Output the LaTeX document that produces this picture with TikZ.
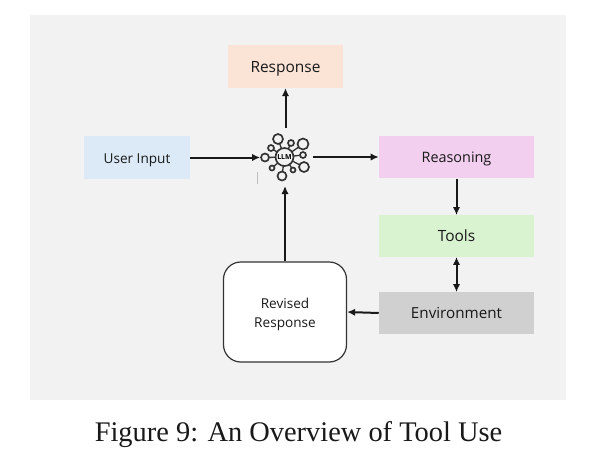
\documentclass[tikz,border=0pt]{standalone}
\usepackage{fontspec}
\setmainfont{Liberation Serif}
\newfontfamily\labelfont{Open Sans}
\usetikzlibrary{arrows.meta}
\definecolor{panel}{HTML}{F2F2F2}
\definecolor{respfill}{HTML}{FBE3D6}
\definecolor{userfill}{HTML}{DCEAF7}
\definecolor{reasonfill}{HTML}{F2CEEF}
\definecolor{toolsfill}{HTML}{D9F2D0}
\definecolor{envfill}{HTML}{D0D0D0}
\tikzset{
  x=0.75pt,y=-0.75pt,
  boxed/.style 2 args={minimum width=#1*0.75pt,inner sep=0pt,text height=8.8pt,text depth=0pt,font=\labelfont\fontsize{#2pt}{12pt}\selectfont,text=black!90},
  conn/.style={line width=1.5pt,-{Latex[length=6pt,width=5.5pt]},black!90},
  biconn/.style={line width=1.5pt,{Latex[length=6pt,width=5.5pt]}-{Latex[length=6pt,width=5.5pt]},black!90},
  ring/.style={draw=black!80,line width=1.25pt,fill=panel,inner sep=0pt,circle},
  spoke/.style={draw=black!80,line width=1pt}
}
\begin{document}
\begin{tikzpicture}
\useasboundingbox (0,0) rectangle (594,455);
\fill[white] (0,0) rectangle (594,455);
\fill[panel] (30,15) rectangle (566,400);

\node[boxed={115}{11.6},minimum height=32pt,fill=respfill] (response) at (285.5,66.5) {Response};
\node[boxed={106}{10.2},minimum height=32pt,fill=userfill] (user) at (137,157.5) {User Input};
\node[boxed={155}{10.8},minimum height=32pt,fill=reasonfill] (reason) at (456.5,157) {Reasoning};
\node[boxed={155}{11.6},minimum height=31pt,fill=toolsfill] (tools) at (456.5,236) {Tools};
\node[boxed={155}{11.4},minimum height=31pt,fill=envfill] (env) at (456.5,313) {Environment};
\node[minimum width=92.25pt,inner sep=0pt,text height=25.5pt,font=\labelfont\fontsize{10.2pt}{12pt}\selectfont,text=black!90,minimum height=75pt,draw=black!80,line width=0.9pt,fill=white,rounded corners=13pt,align=center] (revised) at (285,312) {Revised\\[2pt]Response};

\coordinate (c) at (284.5,157);
\foreach \px/\py/\pr [count=\i] in {278/139/5,291/143/3,303/144/5.5,303/155/3,304/167/5,293/170/2.5,282/176/4.5,272/168/2.5,265/157.5/4,271/148/3}{
  \draw[spoke] (c) -- (\px,\py);
  \node[ring,minimum size=\pr*1.5pt] (sat\i) at (\px,\py) {};
}
\node[ring,minimum size=13.5pt,font=\labelfont\bfseries\fontsize{5.2pt}{6pt}\selectfont] (llm) at (c) {LLM};
\draw[black!25,line width=0.6pt] (257.5,172) -- (257.5,184);

\draw[conn] (user.east) -- (sat9.west);
\draw[conn] (sat1.north -| response.south) ++(0,-5) -- (response.south);
\draw[conn] (llm.east) ++(19,0) -- (reason.west);
\draw[conn] (reason.south) -- (tools.north);
\draw[biconn] (tools.south) -- (env.north);
\draw[conn] (env.west) -- (revised.east);
\draw[conn] (revised.north) -- (285,186);

\node[font=\fontsize{21.3pt}{24pt}\selectfont,text=black!90,inner sep=0pt] (caption) at (298.5,434.5) {Figure 9: An Overview of Tool Use};
\end{tikzpicture}
\end{document}
